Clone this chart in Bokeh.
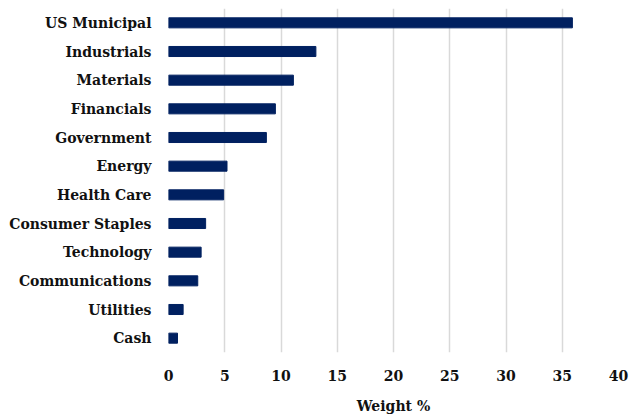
from bokeh.plotting import figure
from bokeh.models import FactorRange, ColumnDataSource, FixedTicker
from bokeh.embed import file_html
from bokeh.resources import INLINE

sectors = ["US Municipal", "Industrials", "Materials", "Financials", "Government",
           "Energy", "Health Care", "Consumer Staples", "Technology",
           "Communications", "Utilities", "Cash"]
weights = [35.9, 13.1, 11.1, 9.5, 8.7, 5.2, 4.9, 3.3, 2.9, 2.6, 1.3, 0.8]
x_ticks = [0, 5, 10, 15, 20, 25, 30, 35, 40]

FONT = "DejaVu Serif"

src = ColumnDataSource(dict(sector=sectors, weight=weights))

p = figure(width=639, height=417, output_backend="svg", toolbar_location=None,
           y_range=FactorRange(*list(reversed(sectors)), range_padding=0),
           x_range=(0, 40),
           min_border_left=168, min_border_right=21, min_border_top=8, min_border_bottom=65)

p.hbar(y="sector", right="weight", left=0, height=0.35, source=src,
       fill_color="#002060", line_color="#002060")

p.outline_line_color = None
p.ygrid.grid_line_color = None
p.xgrid.grid_line_color = "#d9d9d9"
p.xgrid.grid_line_width = 1.5
p.xaxis.ticker = FixedTicker(ticks=x_ticks)

for ax in (p.xaxis[0], p.yaxis[0]):
    ax.axis_line_color = None
    ax.major_tick_line_color = None
    ax.minor_tick_line_color = None
    ax.major_tick_out = 0
    ax.major_tick_in = 0
    ax.major_label_text_font = FONT
    ax.major_label_text_font_size = "14px"
    ax.major_label_text_font_style = "bold"
    ax.major_label_text_color = "#111111"

p.yaxis.major_label_standoff = 17
p.xaxis.major_label_standoff = 17
p.xaxis.axis_label = "Weight %"
p.xaxis.axis_label_text_font = FONT
p.xaxis.axis_label_text_font_size = "14px"
p.xaxis.axis_label_text_font_style = "bold"
p.xaxis.axis_label_text_color = "#111111"
p.xaxis.axis_label_standoff = 14

open("out.html", "w").write(file_html(p, INLINE))
